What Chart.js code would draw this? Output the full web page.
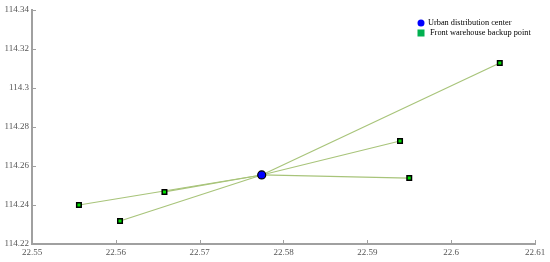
<!DOCTYPE html>
<html>
<head>
<meta charset="utf-8">
<script src="https://cdn.jsdelivr.net/npm/chart.js@4"></script>
<style>
  html, body { margin: 0; padding: 0; background: #fff; }
  #wrap { width: 550px; height: 262px; }
</style>
</head>
<body>
<div id="wrap"><canvas id="c"></canvas></div>
<script>
// data
const centerName = 'Urban distribution center';
const backupName = 'Front warehouse backup point';
const centerPoint = [22.5774, 114.2554];
const backupX = [22.5556, 22.5605, 22.5658, 22.5939, 22.5950, 22.6058];
const backupY = [114.2400, 114.2318, 114.2467, 114.2728, 114.2538, 114.3128];
const xTicks = [22.55, 22.56, 22.57, 22.58, 22.59, 22.60, 22.61];
const yTicks = [114.22, 114.24, 114.26, 114.28, 114.30, 114.32, 114.34];

const axisGrey = '#a0a0a0';
const lineGreen = '#a8c47a';

const center = { x: centerPoint[0], y: centerPoint[1] };
const backups = backupX.map((x, i) => ({ x: x, y: backupY[i] }));

// one line from the center to each backup point
const links = backups.map(p => ({
  label: 'link',
  data: [center, p],
  showLine: true,
  borderColor: lineGreen,
  borderWidth: 1.2,
  pointRadius: 0,
  pointHoverRadius: 0,
  order: 3
}));

const fmt = v => String(+(+v).toFixed(2));

// inward tick marks + legend drawn inside the plot
const extras = {
  id: 'extras',
  afterDraw(chart) {
    const ctx = chart.ctx;
    const xs = chart.scales.x, ys = chart.scales.y;
    const a = chart.chartArea;
    ctx.save();
    ctx.strokeStyle = axisGrey;
    ctx.lineWidth = 1;
    xTicks.forEach(v => {
      const px = Math.round(xs.getPixelForValue(v)) + 0.5;
      ctx.beginPath(); ctx.moveTo(px, a.bottom); ctx.lineTo(px, a.bottom - 4); ctx.stroke();
    });
    yTicks.forEach(v => {
      const py = Math.round(ys.getPixelForValue(v)) + 0.5;
      ctx.beginPath(); ctx.moveTo(a.left, py); ctx.lineTo(a.left + 4, py); ctx.stroke();
    });

    // legend
    const lx = 421, ly1 = 23, ly2 = 33;
    ctx.fillStyle = '#0000ff';
    ctx.beginPath(); ctx.arc(lx, ly1, 3.5, 0, Math.PI * 2); ctx.fill();
    ctx.fillStyle = '#00b050';
    ctx.fillRect(lx - 3.5, ly2 - 3.5, 7, 7);
    ctx.fillStyle = '#000';
    ctx.font = '8.3px "Liberation Serif"';
    ctx.textBaseline = 'middle';
    ctx.fillText(centerName, 428, ly1);
    ctx.fillText(backupName, 430, ly2);
    ctx.restore();
  }
};

new Chart(document.getElementById('c'), {
  type: 'scatter',
  data: {
    datasets: [
      ...links,
      {
        label: backupName,
        data: backups,
        pointStyle: 'rect',
        pointRadius: 3.2,
        pointBackgroundColor: '#00e000',
        pointBorderColor: '#000',
        pointBorderWidth: 1.5,
        order: 2
      },
      {
        label: centerName,
        data: [center],
        pointStyle: 'circle',
        pointRadius: 4,
        pointBackgroundColor: '#0000ff',
        pointBorderColor: '#000',
        pointBorderWidth: 1.2,
        order: 1
      }
    ]
  },
  options: {
    responsive: true,
    maintainAspectRatio: false,
    animation: false,
    layout: { padding: { top: 10, right: 15, left: 0, bottom: 0 } },
    plugins: { legend: { display: false }, tooltip: { enabled: false } },
    scales: {
      x: {
        type: 'linear',
        min: 22.55, max: 22.61,
        afterBuildTicks: s => { s.ticks = xTicks.map(v => ({ value: v })); },
        afterFit: s => { s.height = 18; },
        border: { color: axisGrey, width: 2 },
        grid: { display: false, drawTicks: false },
        ticks: {
          callback: fmt,
          color: '#555',
          font: { family: 'Liberation Serif', size: 9 },
          padding: 3,
          maxRotation: 0
        }
      },
      y: {
        type: 'linear',
        min: 114.22, max: 114.34,
        afterBuildTicks: s => { s.ticks = yTicks.map(v => ({ value: v })); },
        afterFit: s => { s.width = 32; },
        border: { color: axisGrey, width: 2 },
        grid: { display: false, drawTicks: false },
        ticks: {
          callback: fmt,
          color: '#555',
          font: { family: 'Liberation Serif', size: 9 },
          padding: 3
        }
      }
    }
  },
  plugins: [extras]
});
</script>
</body>
</html>
